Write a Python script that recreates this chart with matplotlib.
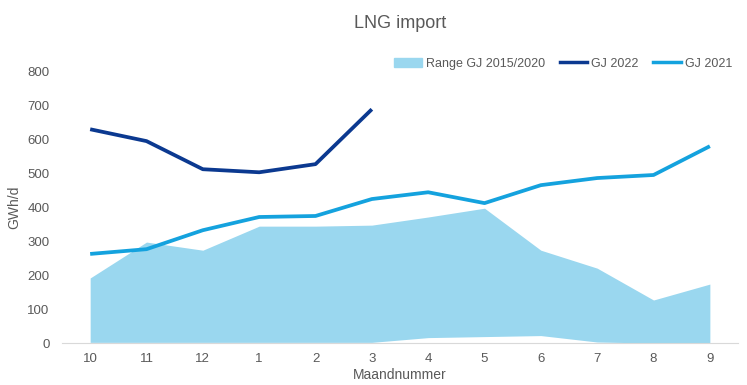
import matplotlib
matplotlib.use("Agg")
import matplotlib.pyplot as plt
from matplotlib.patches import Patch
from matplotlib.lines import Line2D

plt.rcParams['font.family'] = ['Liberation Sans', 'DejaVu Sans']

months = ['10', '11', '12', '1', '2', '3', '4', '5', '6', '7', '8', '9']
range_low = [2, 2, 2, 2, 2, 2, 16, 19, 22, 3, 0, 0]
range_high = [192, 298, 274, 345, 345, 348, 372, 398, 274, 221, 127, 174]
gj2022 = [631, 596, 513, 504, 528, 690]
gj2021 = [263, 277, 333, 372, 375, 425, 445, 413, 466, 487, 496, 581]

c_fill = '#9ad7ef'
c_2022 = '#0b3990'
c_2021 = '#14a2de'
c_text = '#595959'

fig = plt.figure(figsize=(7.47, 3.85), dpi=100)
ax = fig.add_axes([0.083, 0.109, 0.905, 0.704])

x = list(range(len(months)))
ax.fill_between(x, range_low, range_high, color=c_fill, linewidth=0)
ax.plot(x[:len(gj2022)], gj2022, color=c_2022, lw=2.7, solid_capstyle='butt')
ax.plot(x, gj2021, color=c_2021, lw=2.7, solid_capstyle='butt')

ax.set_xlim(-0.5, len(months) - 0.5)
ax.set_ylim(0, 800)
ax.set_yticks(range(0, 801, 100))
ax.set_xticks(x)
ax.set_xticklabels(months)
for s in ['top', 'right', 'left']:
    ax.spines[s].set_visible(False)
ax.spines['bottom'].set_color('#d9d9d9')
ax.tick_params(axis='both', length=0, colors=c_text, labelsize=9.5)
ax.tick_params(axis='x', pad=7)
ax.tick_params(axis='y', pad=9)
ax.set_xlabel('Maandnummer', color=c_text, fontsize=10, labelpad=2)
ax.set_ylabel('GWh/d', color=c_text, fontsize=10, labelpad=4)

fig.text(0.535, 0.94, 'LNG import', ha='center', va='center', fontsize=13, color=c_text)

handles = [Patch(color=c_fill, label='Range GJ 2015/2020'),
           Line2D([], [], color=c_2022, lw=2.5, label='GJ 2022'),
           Line2D([], [], color=c_2021, lw=2.5, label='GJ 2021')]
leg = fig.legend(handles=handles, loc='center right', bbox_to_anchor=(0.995, 0.835), ncol=3,
                 frameon=False, fontsize=9, handlelength=2.2, handletextpad=0.3, columnspacing=1.2,
                 labelcolor=c_text)

fig.savefig('out.png', dpi=100)
